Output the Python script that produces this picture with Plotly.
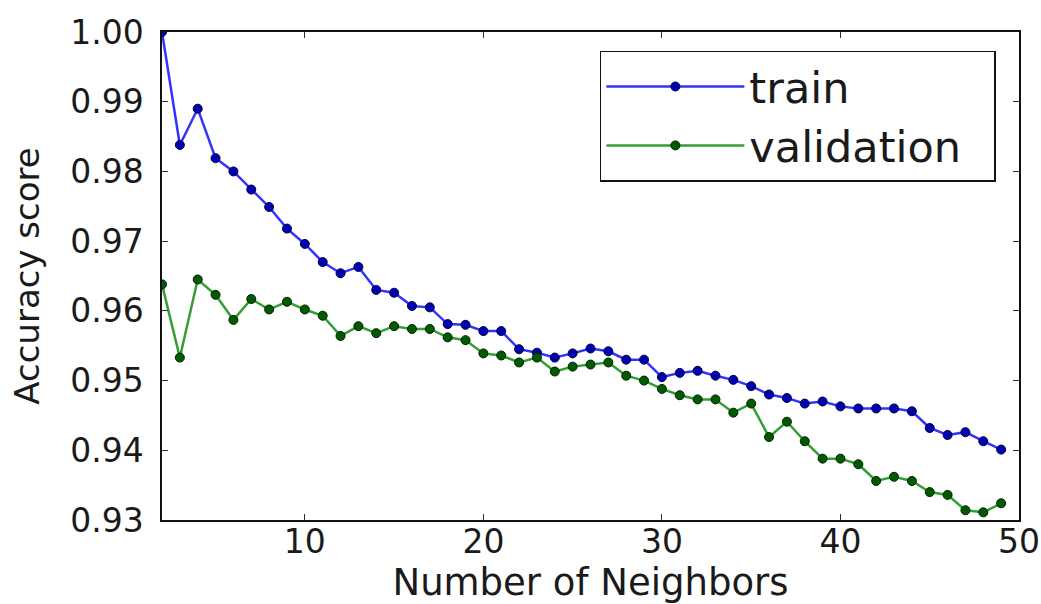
import plotly.graph_objects as go

# Number of neighbours evaluated
neighbors = list(range(2, 50))

# Accuracy on the training set for each k
train_acc = [
    1.0000, 0.9838, 0.9890, 0.9819, 0.9800, 0.9774, 0.9749, 0.9718, 0.9696, 0.9670,
    0.9654, 0.9663, 0.9630, 0.9626, 0.9607, 0.9605, 0.9581, 0.9580, 0.9571, 0.9571,
    0.9545, 0.9540, 0.9533, 0.9539, 0.9546, 0.9542, 0.9530, 0.9530, 0.9505, 0.9511,
    0.9514, 0.9507, 0.9501, 0.9492, 0.9480, 0.9475, 0.9467, 0.9470, 0.9463, 0.9460,
    0.9460, 0.9460, 0.9456, 0.9432, 0.9422, 0.9426, 0.9413, 0.9401,
]

# Accuracy on the validation set for each k
val_acc = [
    0.9638, 0.9533, 0.9645, 0.9623, 0.9587, 0.9617, 0.9602, 0.9613, 0.9602, 0.9593,
    0.9564, 0.9578, 0.9568, 0.9578, 0.9574, 0.9574, 0.9562, 0.9558, 0.9539, 0.9536,
    0.9526, 0.9533, 0.9513, 0.9520, 0.9523, 0.9526, 0.9507, 0.9500, 0.9488, 0.9479,
    0.9473, 0.9473, 0.9454, 0.9467, 0.9419, 0.9441, 0.9413, 0.9388, 0.9388, 0.9380,
    0.9356, 0.9362, 0.9356, 0.9340, 0.9336, 0.9314, 0.9311, 0.9324,
]

x_ticks = [10, 20, 30, 40, 50]
y_ticks = [0.93, 0.94, 0.95, 0.96, 0.97, 0.98, 0.99, 1.00]

FONT = "DejaVu Sans"
# non-breaking spaces give the legend box some room after the longest label
LEGEND_PAD = "\u00a0\u00a0"

fig = go.Figure()
fig.add_trace(go.Scatter(
    x=neighbors, y=train_acc, name="train", mode="lines+markers",
    line=dict(color="#3333ff", width=2.5),
    marker=dict(color="#0000b0", size=9, line=dict(color="#000040", width=1)),
))
fig.add_trace(go.Scatter(
    x=neighbors, y=val_acc, name="validation" + LEGEND_PAD, mode="lines+markers",
    line=dict(color="#339e33", width=2.5),
    marker=dict(color="#005a00", size=9, line=dict(color="#002000", width=1)),
))

axis_common = dict(
    showgrid=False, zeroline=False, automargin=False,
    showline=True, linecolor="#111111", linewidth=1.5, mirror="ticks",
    ticks="inside", ticklen=6, tickwidth=1, tickcolor="#333333",
    tickfont=dict(family=FONT, size=33, color="#1a1a1a"),
)

fig.update_layout(
    width=1041, height=604,
    margin=dict(l=162, r=22, t=32, b=84),
    paper_bgcolor="white", plot_bgcolor="white",
    font=dict(family=FONT, color="#1a1a1a"),
    xaxis=dict(
        range=[2, 50], tickvals=x_ticks, ticktext=[str(v) for v in x_ticks],
        title=dict(text="Number of Neighbors", font=dict(family=FONT, size=37), standoff=4),
        ticklabelstandoff=-8,
        **axis_common,
    ),
    yaxis=dict(
        range=[0.93, 1.00], tickvals=y_ticks, ticktext=[f"{v:.2f}" for v in y_ticks],
        title=dict(text="Accuracy score", font=dict(family=FONT, size=34), standoff=20),
        ticklabelstandoff=10,
        **axis_common,
    ),
    legend=dict(
        x=0.973, y=0.962, xanchor="right", yanchor="top",
        bgcolor="white", bordercolor="#111111", borderwidth=1.5,
        font=dict(family=FONT, size=43, color="#1a1a1a"),
        itemwidth=138,
        tracegroupgap=0,
    ),
    showlegend=True,
)

fig.write_html("out.html")
